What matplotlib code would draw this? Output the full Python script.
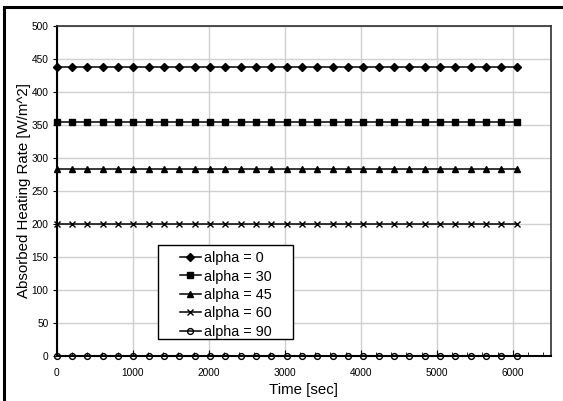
import matplotlib
matplotlib.use("Agg")
import matplotlib.pyplot as plt
from matplotlib.patches import Rectangle
from matplotlib.ticker import MultipleLocator

plt.rcParams['font.family'] = ['Liberation Sans', 'DejaVu Sans']

time_sec = [0, 202, 403, 605, 807, 1008, 1210, 1412, 1613, 1815, 2017, 2218,
            2420, 2622, 2823, 3025, 3227, 3428, 3630, 3832, 4033, 4235, 4437,
            4638, 4840, 5042, 5243, 5445, 5647, 5848, 6050]
n = len(time_sec)
alpha_0 = [438] * n
alpha_30 = [355] * n
alpha_45 = [283] * n
alpha_60 = [200] * n
alpha_90 = [0] * n

series = [
    ("alpha = 0", alpha_0, "D", 4.3, "black"),
    ("alpha = 30", alpha_30, "s", 4.5, "black"),
    ("alpha = 45", alpha_45, "^", 4.7, "black"),
    ("alpha = 60", alpha_60, "x", 4.5, "black"),
    ("alpha = 90", alpha_90, "o", 4.2, "none"),
]

fig = plt.figure(figsize=(5.63, 4.01), dpi=100)
ax = fig.add_axes([56.7 / 563, 1 - 356 / 401, (550.7 - 56.7) / 563, (356 - 26) / 401])

for label, vals, mk, ms, fc in series:
    ax.plot(time_sec, vals, color="black", linewidth=1.1, marker=mk,
            markersize=ms, markerfacecolor=fc, markeredgecolor="black",
            markeredgewidth=1.0, label=label, clip_on=False, zorder=3)

ax.set_xlim(0, 6500)
ax.set_ylim(0, 500)
ax.set_xticks([0, 1000, 2000, 3000, 4000, 5000, 6000])
ax.xaxis.set_minor_locator(MultipleLocator(200))
ax.yaxis.set_major_locator(MultipleLocator(50))
ax.grid(True, which="major", color="#d0d0d0", linewidth=1.0)
ax.set_axisbelow(True)

ax.tick_params(axis="x", which="major", direction="in", length=4, labelsize=7.3, pad=9, color="black")
ax.tick_params(axis="x", which="minor", direction="in", length=3, color="black")
ax.tick_params(axis="y", which="major", direction="out", length=3, labelsize=7.3, pad=3, color="black")

for s in ["left", "bottom"]:
    ax.spines[s].set_color("black")
    ax.spines[s].set_linewidth(1.5)
for s in ["top", "right"]:
    ax.spines[s].set_color("#303030")
    ax.spines[s].set_linewidth(1.2)

ax.set_xlabel("Time [sec]", fontsize=10.8, labelpad=3)
ax.set_ylabel("Absorbed Heating Rate [W/m^2]", fontsize=10.8, labelpad=0.5)

# legend box (Excel style, wide padding)
ax.add_patch(Rectangle((0.205, 0.0515), 0.273, 0.2845, transform=ax.transAxes,
                       facecolor="white", edgecolor="black", linewidth=1.0,
                       zorder=4))
leg = ax.legend(loc="upper left", bbox_to_anchor=(0.2496, 0.318), fontsize=10.4,
                frameon=False, handlelength=1.45, handletextpad=0.2,
                labelspacing=0.31, borderpad=0, borderaxespad=0)
leg.set_zorder(5)

fig.add_artist(Rectangle((4 / 563, -0.1), 1.2, 1 - 7 / 401 + 0.1,
                         transform=fig.transFigure, fill=False,
                         edgecolor="black", linewidth=2.2, clip_on=False))

fig.savefig("out.png", dpi=100)
